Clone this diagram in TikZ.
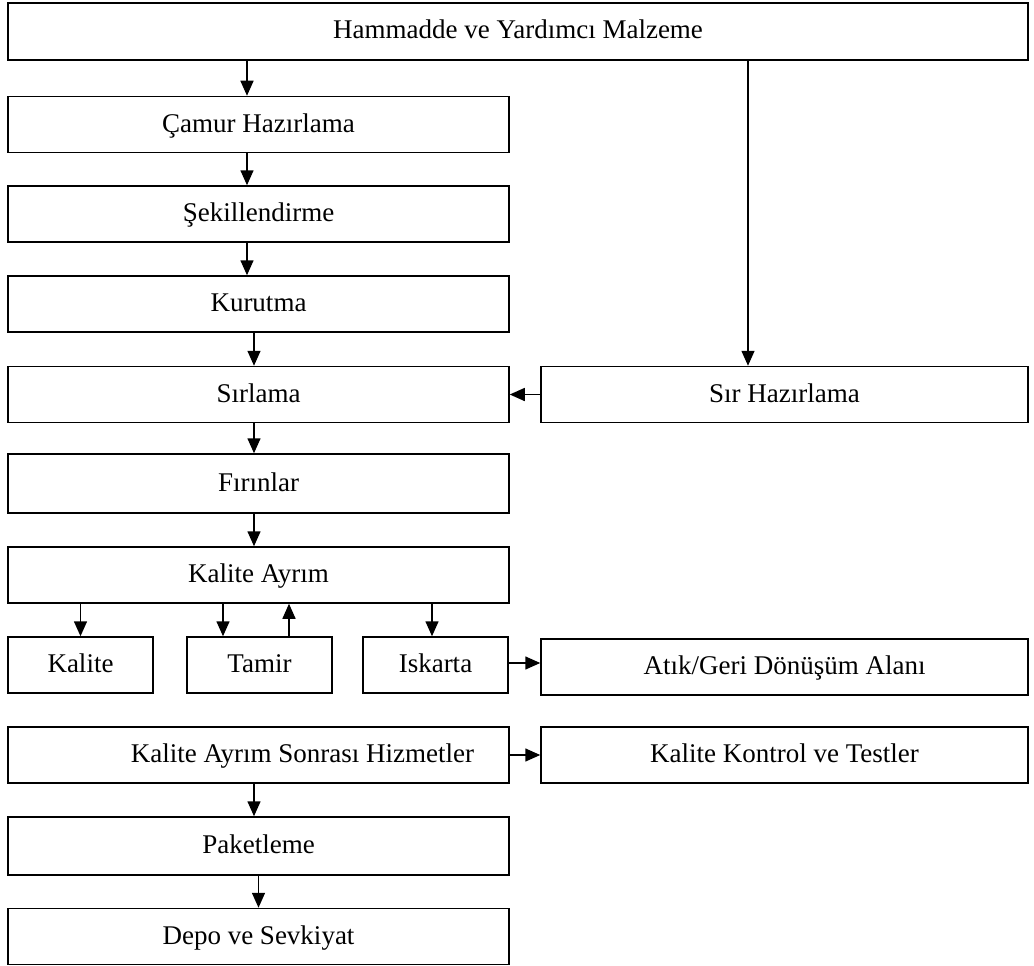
\documentclass[tikz,border=0pt]{standalone}
\usepackage{fontspec}
\setmainfont{Liberation Serif}
\usetikzlibrary{arrows.meta}

\tikzset{
  kutu/.style={draw, line width=1.5pt, inner sep=0pt, minimum height=56pt, text height=20pt, text depth=5pt, font=\fontsize{27}{32}\selectfont},
  solkutu/.style={kutu, minimum width=501pt},
  sagkutu/.style={kutu, minimum width=487pt},
  kucuk/.style={kutu, minimum width=145pt},
  ok/.style={-{Triangle[length=15pt,width=13pt]}, line width=1.5pt}
}

\begin{document}
\begin{tikzpicture}[x=1pt,y=-1pt]
\useasboundingbox (0,0) rectangle (1034,966);
\node[kutu, minimum width=1020pt, minimum height=57pt] (ham) at (518,31.5) {Hammadde ve Yardımcı Malzeme};
\node[solkutu] (camur) at (258.5,124.5) {Çamur Hazırlama};
\node[solkutu] (sekil) at (258.5,214) {Şekillendirme};
\node[solkutu] (kuru) at (258.5,304) {Kurutma};
\node[solkutu] (sirla) at (258.5,394.5) {Sırlama};
\node[sagkutu] (sirhaz) at (784.5,394.5) {Sır Hazırlama};
\node[solkutu, minimum height=59pt] (firin) at (258.5,483.5) {Fırınlar};
\node[solkutu] (ayrim) at (258.5,575) {Kalite Ayrım};
\node[kucuk] (kalite) at (80.5,665) {Kalite};
\node[kucuk] (tamir) at (259.5,665) {Tamir};
\node[kucuk] (iskarta) at (435.5,665) {Iskarta};
\node[sagkutu] (atik) at (784.5,667) {Atık/Geri Dönüşüm Alanı};
\node[solkutu] (sonra) at (258.5,755) {\hspace*{88pt}Kalite Ayrım Sonrası Hizmetler};
\node[sagkutu] (kontrol) at (784.5,755) {Kalite Kontrol ve Testler};
\node[solkutu, minimum height=58pt] (paket) at (258.5,846) {Paketleme};
\node[solkutu] (depo) at (258.5,936.5) {Depo ve Sevkiyat};

% ana hat
\draw[ok] ([xshift=-11.5pt]camur.north |- ham.south) -- ([xshift=-11.5pt]camur.north);
\draw[ok] ([xshift=-11.5pt]sekil.north |- camur.south) -- ([xshift=-11.5pt]sekil.north);
\draw[ok] ([xshift=-11.5pt]kuru.north |- sekil.south) -- ([xshift=-11.5pt]kuru.north);
\draw[ok] ([xshift=-4.5pt]sirla.north |- kuru.south) -- ([xshift=-4.5pt]sirla.north);
\draw[ok] ([xshift=-4.5pt]firin.north |- sirla.south) -- ([xshift=-4.5pt]firin.north);
\draw[ok] ([xshift=-4.5pt]ayrim.north |- firin.south) -- ([xshift=-4.5pt]ayrim.north);
% sir
\draw[ok] ([xshift=-36.5pt]sirhaz.north |- ham.south) -- ([xshift=-36.5pt]sirhaz.north);
\draw[ok] (sirhaz.west) -- (sirla.east);
% kalite ayrim
\draw[ok] (kalite.north |- ayrim.south) -- (kalite.north);
\draw[ok] ([xshift=-36.5pt]tamir.north |- ayrim.south) -- ([xshift=-36.5pt]tamir.north);
\draw[ok] ([xshift=29.5pt]tamir.north) -- ([xshift=29.5pt]tamir.north |- ayrim.south);
\draw[ok] ([xshift=-3.5pt]iskarta.north |- ayrim.south) -- ([xshift=-3.5pt]iskarta.north);
\draw[ok] ([yshift=2pt]iskarta.east) -- ([yshift=2pt]iskarta.east -| atik.west);
% sonrasi
\draw[ok] (sonra.east) -- (kontrol.west);
\draw[ok] ([xshift=-4.5pt]paket.north |- sonra.south) -- ([xshift=-4.5pt]paket.north);
\draw[ok] (depo.north |- paket.south) -- (depo.north);
\end{tikzpicture}
\end{document}
